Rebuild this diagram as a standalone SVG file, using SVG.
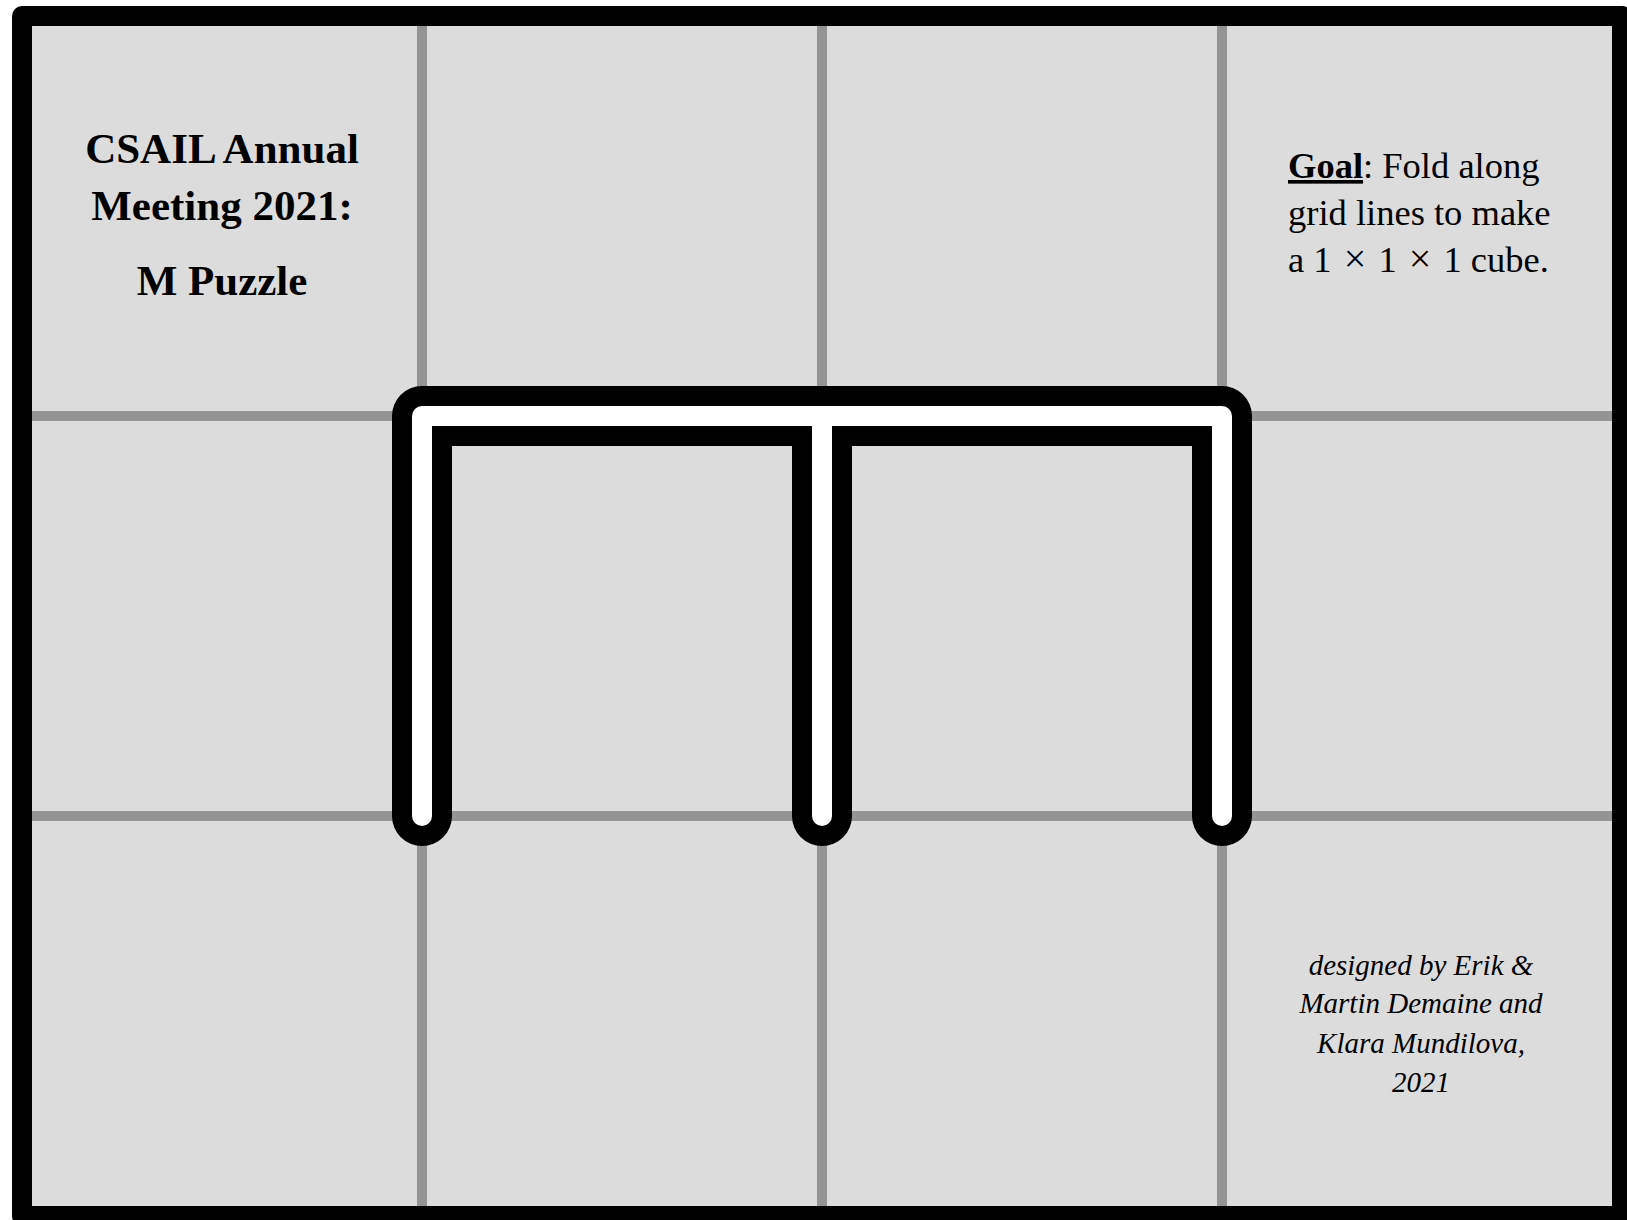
<svg xmlns="http://www.w3.org/2000/svg" width="1627" height="1220" viewBox="0 0 1627 1220">
  <style>
    .grid { stroke: #949494; stroke-width: 10; fill: none; }
    .cut-outer { stroke: #000; stroke-width: 60; fill: none; stroke-linecap: round; stroke-linejoin: round; }
    .cut-inner { stroke: #fff; stroke-width: 20; fill: none; stroke-linecap: round; stroke-linejoin: round; }
    .title { font-family: "Liberation Serif", "DejaVu Serif", serif; font-weight: bold; font-size: 43px; fill: #000; text-anchor: middle; }
    .goal { font-family: "Liberation Serif", "DejaVu Serif", serif; font-size: 36.5px; fill: #000; }
    .credit { font-family: "Liberation Serif", "DejaVu Serif", serif; font-style: italic; font-size: 29px; fill: #000; text-anchor: middle; }
    .times { font-size: 40px; }
  </style>
  <rect x="0" y="0" width="1627" height="1220" fill="#fff"/>
  <g id="sheet">
    <rect x="22" y="16" width="1600" height="1200" fill="#dcdcdc"/>
    <g id="grid-lines" class="grid">
      <line x1="422" y1="16" x2="422" y2="1216"/>
      <line x1="822" y1="16" x2="822" y2="1216"/>
      <line x1="1222" y1="16" x2="1222" y2="1216"/>
      <line x1="22" y1="416" x2="1622" y2="416"/>
      <line x1="22" y1="816" x2="1622" y2="816"/>
    </g>
    <rect x="22" y="16" width="1600" height="1200" fill="none" stroke="#000" stroke-width="20" stroke-linejoin="round"/>
  </g>
  <g id="connectors">
    <g id="m-cut">
      <path class="cut-outer" d="M422 816 V416 H1222 V816 M822 416 V816"/>
      <path class="cut-inner" d="M422 816 V416 H1222 V816 M822 416 V816"/>
    </g>
  </g>
  <g id="title">
    <text class="title" x="222" y="163">CSAIL Annual</text>
    <text class="title" x="222" y="220">Meeting 2021:</text>
    <text class="title" x="222" y="295">M Puzzle</text>
  </g>
  <g id="goal">
    <text class="goal" x="1288" y="178"><tspan font-weight="bold" text-decoration="underline">Goal</tspan>: Fold along</text>
    <text class="goal" x="1288" y="225">grid lines to make</text>
    <text class="goal" x="1288" y="272">a 1 <tspan class="times" dx="3">×</tspan><tspan dx="3"> 1 </tspan><tspan class="times" dx="3">×</tspan><tspan dx="3"> 1 cube.</tspan></text>
  </g>
  <g id="credits">
    <text class="credit" x="1421" y="975">designed by Erik &amp;</text>
    <text class="credit" x="1421" y="1013">Martin Demaine and</text>
    <text class="credit" x="1421" y="1053">Klara Mundilova,</text>
    <text class="credit" x="1421" y="1092">2021</text>
  </g>
</svg>
